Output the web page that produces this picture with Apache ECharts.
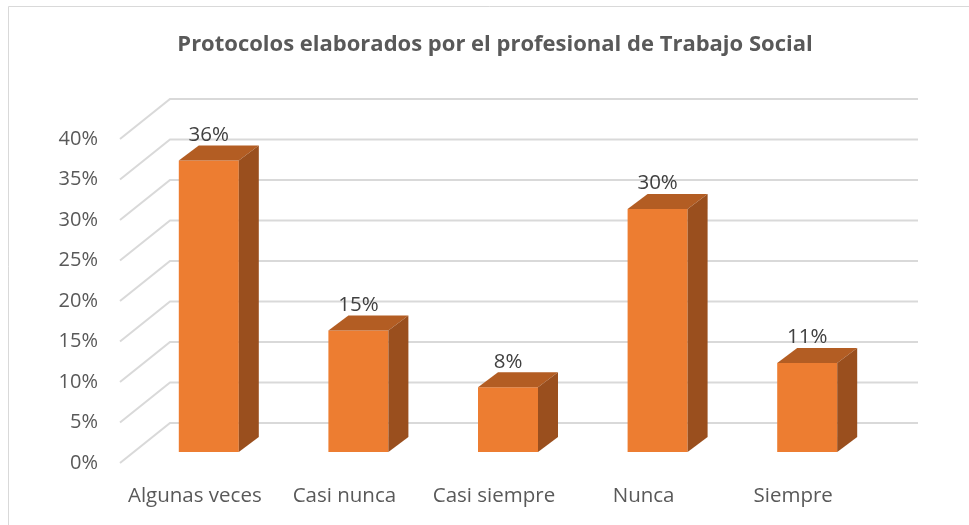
<!DOCTYPE html>
<html>
<head>
<meta charset="utf-8">
<title>Protocolos elaborados por el profesional de Trabajo Social</title>
<script src="https://cdn.jsdelivr.net/npm/echarts@6/dist/echarts.min.js"></script>
<style>
  html, body { margin: 0; padding: 0; background: #fff; }
  #chart { width: 969px; height: 525px; }
</style>
</head>
<body>
<div id="chart"></div>
<script>
// Data
const categories = ['Algunas veces', 'Casi nunca', 'Casi siempre', 'Nunca', 'Siempre'];
const values = [36, 15, 8, 30, 11];
const yTicks = [0, 5, 10, 15, 20, 25, 30, 35, 40];

const FONT = '"Open Sans", sans-serif';

// 3D look: back wall offset and bar depth
const wallDx = 50, wallDy = -40;
const barShiftX = 14, barShiftY = -11;
const barWidth = 60, depthX = 20, depthY = -15;

const chart = echarts.init(document.getElementById('chart'), null, { renderer: 'canvas' });

chart.setOption({
  backgroundColor: '#fff',
  animation: false,
  graphic: [
    {
      type: 'rect',
      shape: { x: 8.5, y: 6.5, width: 1200, height: 1200 },
      style: { fill: 'none', stroke: '#d9d9d9', lineWidth: 1 },
      silent: true
    },
    {
      type: 'text',
      x: 495, y: 45,
      style: {
        text: 'Protocolos elaborados por el profesional de Trabajo Social',
        fill: '#595959',
        font: 'bold 22px ' + FONT,
        textAlign: 'center',
        textVerticalAlign: 'middle'
      }
    }
  ],
  grid: { left: 120, right: 101, top: 139, bottom: 62 },
  xAxis: {
    type: 'category',
    data: categories,
    axisLine: { show: false },
    axisTick: { show: false },
    axisLabel: { color: '#595959', fontSize: 20.5, fontFamily: FONT, margin: 23, interval: 0 }
  },
  yAxis: {
    type: 'value',
    min: 0,
    max: 40,
    interval: 5,
    axisLine: { show: false },
    axisTick: { show: false },
    splitLine: { show: false },
    axisLabel: { color: '#595959', fontSize: 20, fontFamily: FONT, margin: 22, formatter: '{value}%' }
  },
  series: [
    {
      // gridlines: front edge diagonal + back wall line
      type: 'custom',
      silent: true,
      data: yTicks.map(t => [0, t]),
      encode: { x: 0, y: 1 },
      renderItem: function (params, api) {
        const cs = params.coordSys;
        const y = api.coord([0, api.value(1)])[1];
        return {
          type: 'polyline',
          shape: {
            points: [
              [cs.x, y],
              [cs.x + wallDx, y + wallDy],
              [cs.x + cs.width + wallDx, y + wallDy]
            ]
          },
          style: { stroke: '#d9d9d9', lineWidth: 2, fill: 'none' }
        };
      },
      z: 1
    },
    {
      type: 'custom',
      data: values.map((v, i) => [i, v]),
      encode: { x: 0, y: 1 },
      renderItem: function (params, api) {
        const i = api.value(0);
        const v = api.value(1);
        const top = api.coord([i, v]);
        const base = api.coord([i, 0]);
        const x0 = top[0] + barShiftX - barWidth / 2;
        const x1 = x0 + barWidth;
        const yt = top[1] + barShiftY;
        const yb = base[1] + barShiftY;
        return {
          type: 'group',
          children: [
            {
              type: 'rect',
              shape: { x: x0, y: yt, width: barWidth, height: yb - yt },
              style: { fill: '#ed7d31' }
            },
            {
              type: 'polygon',
              shape: { points: [[x0, yt], [x0 + depthX, yt + depthY], [x1 + depthX, yt + depthY], [x1, yt]] },
              style: { fill: '#b35d23' }
            },
            {
              type: 'polygon',
              shape: { points: [[x1, yt], [x1 + depthX, yt + depthY], [x1 + depthX, yb + depthY], [x1, yb]] },
              style: { fill: '#9a4f1e' }
            },
            {
              type: 'text',
              x: (x0 + x1) / 2,
              y: yt + depthY,
              style: {
                text: v + '%',
                fill: '#404040',
                font: '20.5px ' + FONT,
                textAlign: 'center',
                textVerticalAlign: 'bottom'
              }
            }
          ]
        };
      },
      z: 2
    }
  ]
});
</script>
</body>
</html>
